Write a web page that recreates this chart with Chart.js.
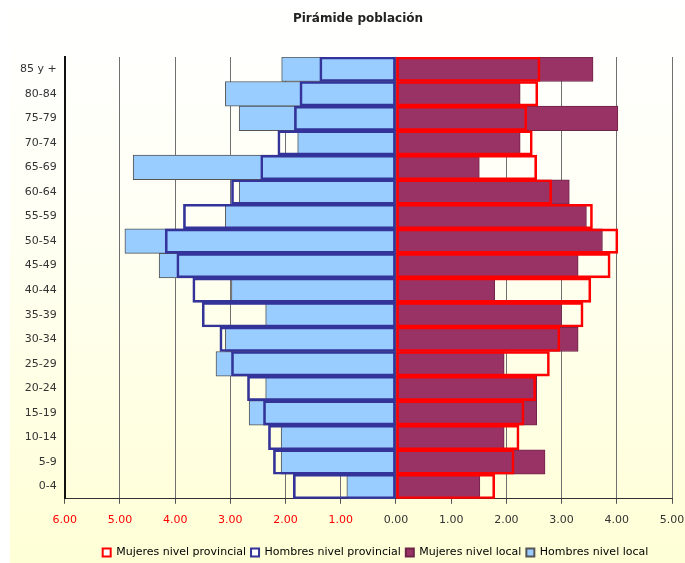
<!DOCTYPE html>
<html>
<head>
<meta charset="utf-8">
<script src="https://cdn.jsdelivr.net/npm/chart.js@4/dist/chart.umd.min.js"></script>
<style>
  html, body { margin: 0; padding: 0; background: #fff; }
  #wrap { width: 685px; height: 563px; }
</style>
</head>
<body>
<div id="wrap"><canvas id="chart" width="685" height="563"></canvas></div>
<script>
const titleText = 'Pirámide población';

const ageGroups = ['85 y +', '80-84', '75-79', '70-74', '65-69', '60-64', '55-59', '50-54', '45-49',
                   '40-44', '35-39', '30-34', '25-29', '20-24', '15-19', '10-14', '5-9', '0-4'];

// percentages (men drawn to the left)
const mujeresProvincial = [2.61, 2.57, 2.37, 2.47, 2.55, 2.82, 3.56, 4.02, 3.88,
                           3.53, 3.39, 2.97, 2.78, 2.53, 2.32, 2.23, 2.14, 1.79];
const hombresProvincial = [1.38, 1.74, 1.84, 2.14, 2.45, 2.98, 3.85, 4.18, 3.97,
                           3.68, 3.51, 3.19, 2.98, 2.69, 2.40, 2.31, 2.22, 1.86];
const mujeresLocal = [3.57, 2.25, 4.02, 2.25, 1.51, 3.14, 3.45, 3.74, 3.30,
                      1.79, 3.00, 3.30, 1.96, 2.55, 2.55, 1.96, 2.70, 1.52];
const hombresLocal = [2.07, 3.09, 2.84, 1.78, 4.76, 2.84, 3.09, 4.91, 4.29,
                      2.98, 2.36, 3.09, 3.26, 2.36, 2.66, 2.08, 2.08, 0.89];

const xTicks = [-6, -5, -4, -3, -2, -1, 0, 1, 2, 3, 4, 5];

const neg = arr => arr.map(v => -v);
const font = {family: 'DejaVu Sans', size: 11};

// background, title, and nudge the legend to sit under the plot
const decor = {
    id: 'decor',
    afterLayout(chart) {
        chart.legend.left += 27;
        chart.legend.right += 27;
    },
    beforeDraw(chart) {
        const c = chart.ctx;
        const g = c.createLinearGradient(0, 0, 0, chart.height);
        g.addColorStop(0, '#ffffff');
        g.addColorStop(0.35, '#fffff6');
        g.addColorStop(1, '#ffffd6');
        c.save();
        c.fillStyle = '#ffffff';
        c.fillRect(0, 0, chart.width, chart.height);
        c.fillStyle = g;
        c.fillRect(10, 0, chart.width - 10, chart.height);
        c.restore();
    },
    afterDraw(chart) {
        const c = chart.ctx;
        c.save();
        c.font = 'bold 12px "DejaVu Sans"';
        c.fillStyle = '#222';
        c.textAlign = 'center';
        c.textBaseline = 'middle';
        c.fillText(titleText, 358, 19);
        c.restore();
    }
};

const bar = {grouped: false, barPercentage: 1, categoryPercentage: 1, borderSkipped: false};

new Chart(document.getElementById('chart'), {
    type: 'bar',
    data: {
        labels: ageGroups,
        datasets: [
            Object.assign({label: 'Mujeres nivel provincial', data: mujeresProvincial,
                backgroundColor: 'rgba(0,0,0,0)', borderColor: '#ff0000', borderWidth: 2}, bar),
            Object.assign({label: 'Hombres nivel provincial', data: neg(hombresProvincial),
                backgroundColor: 'rgba(0,0,0,0)', borderColor: '#333399', borderWidth: 2}, bar),
            Object.assign({label: 'Mujeres nivel local', data: mujeresLocal,
                backgroundColor: '#993366', borderColor: '#6e2448', borderWidth: 1}, bar),
            Object.assign({label: 'Hombres nivel local', data: neg(hombresLocal),
                backgroundColor: '#99ccff', borderColor: '#555555', borderWidth: 1}, bar)
        ]
    },
    options: {
        indexAxis: 'y',
        responsive: false,
        animation: false,
        layout: {padding: {top: 57, left: 12, right: 0, bottom: -5}},
        scales: {
            x: {
                min: -6, max: 5,
                afterBuildTicks: axis => { axis.ticks = xTicks.map(v => ({value: v})); },
                afterFit: axis => { axis.height += 5; axis.paddingRight = 13; },
                grid: {color: '#707070', lineWidth: 1, tickLength: 5, tickColor: '#555'},
                border: {color: '#333', width: 1},
                ticks: {
                    padding: 10,
                    font: font,
                    color: c => c.tick && c.tick.value < 0 ? '#ff0000' : '#333333',
                    callback: v => Math.abs(v).toFixed(2)
                }
            },
            y: {
                grid: {display: false, drawTicks: false},
                border: {color: '#111', width: 2},
                ticks: {
                    padding: 8,
                    font: font,
                    color: '#333333'
                }
            }
        },
        plugins: {
            tooltip: {enabled: false},
            legend: {
                position: 'bottom',
                labels: {
                    boxWidth: 8, boxHeight: 8, padding: 5,
                    font: font,
                    color: '#333',
                    generateLabels: chart => chart.data.datasets.map((d, i) => ({
                        text: d.label,
                        fillStyle: d.backgroundColor === 'rgba(0,0,0,0)' ? '#ffffff' : d.backgroundColor,
                        strokeStyle: d.borderColor,
                        lineWidth: 2,
                        datasetIndex: i
                    }))
                }
            }
        }
    },
    plugins: [decor]
});
</script>
</body>
</html>
